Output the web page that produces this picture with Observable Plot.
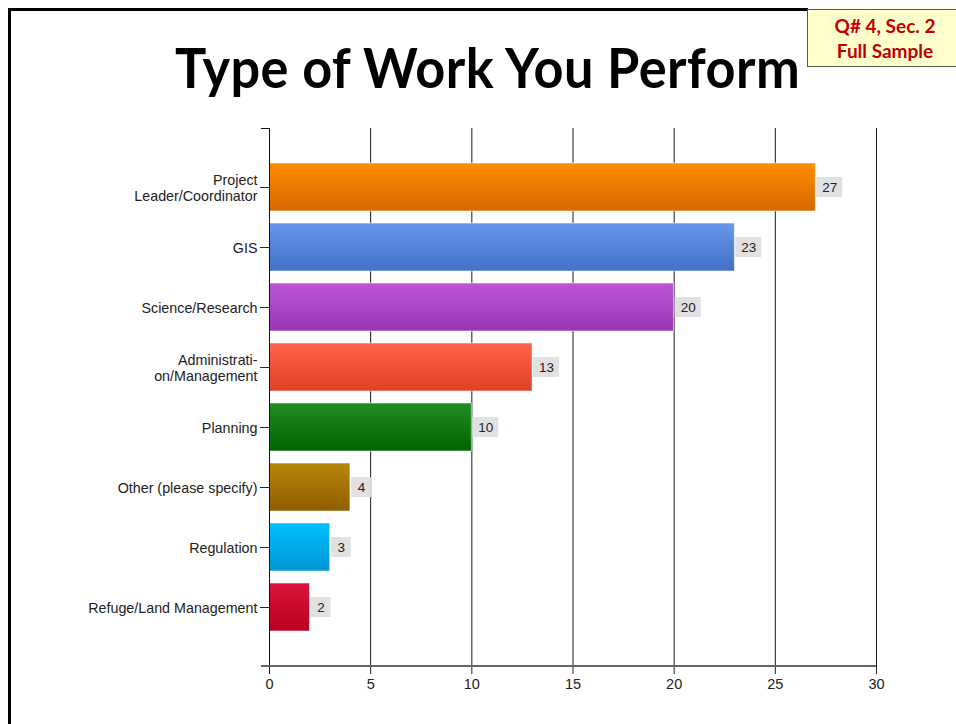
<!DOCTYPE html>
<html><head><meta charset="utf-8">
<script src="https://cdn.jsdelivr.net/npm/d3@7"></script>
<script src="https://cdn.jsdelivr.net/npm/@observablehq/plot@0.6"></script>
<style>
body{margin:0;background:#fff;}
#page{position:relative;width:956px;height:724px;overflow:hidden;background:#fff;font-family:"Liberation Sans",Arial,sans-serif;}
#lborder{position:absolute;left:8px;top:8px;width:3px;height:716px;background:#000;}
#tborder{position:absolute;left:8px;top:8px;width:800px;height:3px;background:#000;}
#title{position:absolute;left:175px;top:40px;font-family:Lato,"Open Sans",sans-serif;font-weight:bold;font-size:55px;line-height:1;white-space:nowrap;transform-origin:0 0;color:#000;letter-spacing:0.5px;}
#badge{position:absolute;left:807px;top:9px;width:156px;height:58px;background:#FFFFCC;border:1px solid #555;color:#C00000;font-family:Lato,sans-serif;font-weight:bold;font-size:19px;line-height:25px;text-align:center;box-sizing:border-box;padding-top:3px;}
#chart{position:absolute;left:0;top:100px;}
</style>
</head><body>
<div id="page">
  <div id="lborder"></div>
  <div id="tborder"></div>
  <div id="title">Type of Work You Perform</div>
  <div id="badge">Q# 4, Sec. 2<br>Full Sample</div>
  <div id="chart"></div>
</div>
<script>
// ---- data ----
const categories = [
  "Project\nLeader/Coordinator",
  "GIS",
  "Science/Research",
  "Administrati-\non/Management",
  "Planning",
  "Other (please specify)",
  "Regulation",
  "Refuge/Land Management"
];
const counts = [27, 23, 20, 13, 10, 4, 3, 2];
const xTicks = [0, 5, 10, 15, 20, 25, 30];

// ---- styles (gradient top / bottom per bar) ----
const barTop =    ["#FF8C00", "#6897EC", "#BC55D4", "#FF6449", "#238C23", "#B8860B", "#00BFFF", "#DC143C"];
const barBottom = ["#D66800", "#4270C6", "#9836B8", "#DD4228", "#006400", "#8E5E00", "#0096D2", "#B6001E"];

const rows = categories.map((c, i) => ({cat: c, value: counts[i], grad: `url(#bargrad${i})`}));
const two = rows.filter(d => d.value >= 10);
const one = rows.filter(d => d.value < 10);

// title fit
const title = document.getElementById("title");
const tw = title.scrollWidth;
title.style.transform = `scaleX(${625 / tw})`;

const defsMark = () => {
  const defs = d3.create("svg:defs");
  barTop.forEach((t, i) => {
    const g = defs.append("linearGradient").attr("id", `bargrad${i}`)
      .attr("x1", 0).attr("y1", 0).attr("x2", 0).attr("y2", 1);
    g.append("stop").attr("offset", "0%").attr("stop-color", t);
    g.append("stop").attr("offset", "100%").attr("stop-color", barBottom[i]);
  });
  return defs.node();
};

const axisLines = (index, scales, values, dims) => {
  const g = d3.create("svg:g");
  const x0 = dims.marginLeft, x1 = dims.width - dims.marginRight;
  const y0 = dims.marginTop, y1 = dims.height - dims.marginBottom;
  g.append("line").attr("x1", x0 + 0.5).attr("x2", x0 + 0.5).attr("y1", y0).attr("y2", y1 + 8)
    .attr("stroke", "#111").attr("stroke-width", 1);
  g.append("line").attr("x1", x0 - 8).attr("x2", x0 + 0.5).attr("y1", y0 + 0.5).attr("y2", y0 + 0.5)
    .attr("stroke", "#111").attr("stroke-width", 1);
  g.append("line").attr("x1", x0 - 8).attr("x2", x1).attr("y1", y1).attr("y2", y1)
    .attr("stroke", "#666").attr("stroke-width", 2);
  return g.node();
};

const chart = Plot.plot({
  width: 956,
  height: 624,
  marginTop: 28,
  marginBottom: 58,
  marginLeft: 269,
  marginRight: 80,
  style: {background: "transparent", fontFamily: "'Liberation Sans', Arial, sans-serif"},
  x: {domain: [0, 30], ticks: xTicks, label: null},
  y: {domain: categories, paddingInner: 0.2, paddingOuter: 0.58, label: null},
  color: {type: "identity"},
  marks: [
    defsMark,
    Plot.ruleX(xTicks, {stroke: "#1a1a1a", strokeWidth: 1}),
    Plot.barX(rows, {x1: 0, x2: "value", y: "cat", fill: "grad", stroke: "#ffffff", strokeOpacity: 0.55, strokeWidth: 1}),
    Plot.barX(two, {x1: "value", x2: "value", y: "cat", insetLeft: 1, insetRight: -27, insetTop: 14, insetBottom: 14, fill: "#E1E1E1"}),
    Plot.barX(one, {x1: "value", x2: "value", y: "cat", insetLeft: 1, insetRight: -21, insetTop: 14, insetBottom: 14, fill: "#E1E1E1"}),
    Plot.text(two, {x: "value", y: "cat", text: d => String(d.value), dx: 14, fontSize: 13.5, fill: "#222"}),
    Plot.text(one, {x: "value", y: "cat", text: d => String(d.value), dx: 11, fontSize: 13.5, fill: "#222"}),
    Plot.axisX({ticks: xTicks, tickSize: 8, tickPadding: 4, fontSize: 14.5, stroke: "#222", fill: "#222"}),
    Plot.axisY({tickSize: 9, tickPadding: 3, fontSize: 14.3, stroke: "#222", fill: "#222", lineHeight: 1.15}),
    axisLines
  ]
});
document.getElementById("chart").appendChild(chart);
</script>
</body></html>
